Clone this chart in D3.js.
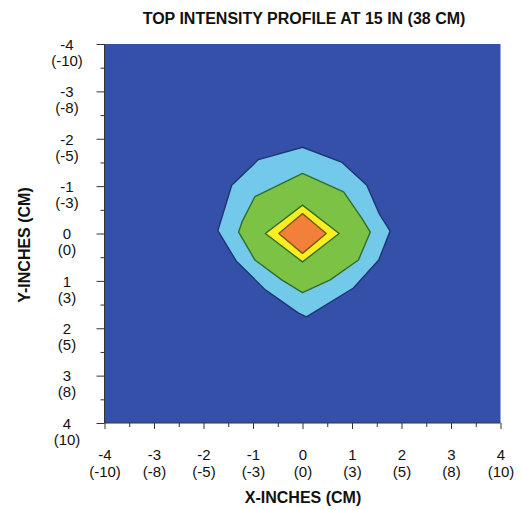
<!DOCTYPE html>
<html>
<head>
<meta charset="utf-8">
<script src="https://cdn.jsdelivr.net/npm/d3@7"></script>
<style>
  html, body { margin: 0; padding: 0; background: #ffffff; }
  svg { display: block; font-family: "Liberation Sans", Arial, sans-serif; }
</style>
</head>
<body>
<svg id="chart" width="523" height="510"></svg>
<script>
// ---- data (inches) ----
const inchTicks = [-4, -3, -2, -1, 0, 1, 2, 3, 4];
const cmLabels  = ["(-10)", "(-8)", "(-5)", "(-3)", "(0)", "(3)", "(5)", "(8)", "(10)"];
const minorTicks = [-3.5, -2.5, -1.5, -0.5, 0.5, 1.5, 2.5, 3.5];

const levelNames = ["background", "low", "medium", "high", "peak"];
const levelColors = ["#3550a9", "#72c9ea", "#7cc245", "#fbee1f", "#f3803a"];
const levelStrokes = ["none", "#1d3574", "#2f6e2c", "#2f6e2c", "#7a5a12"];

// contour outlines, vertices in inches [x, y]
const lowContour = [[0.0,-1.82],[0.8,-1.5],[1.3,-1.02],[1.55,-0.42],[1.77,-0.05],[1.54,0.56],[1.03,1.15],[0.08,1.76],[-0.08,1.68],[-0.75,1.19],[-1.34,0.58],[-1.71,-0.06],[-1.43,-1.02],[-0.89,-1.56]];
const mediumContour = [[0.0,-1.27],[0.83,-0.88],[1.2,-0.32],[1.37,-0.03],[1.13,0.56],[0.56,0.98],[0.0,1.25],[-0.42,0.98],[-0.96,0.56],[-1.29,-0.03],[-1.22,-0.25],[-0.96,-0.78]];
const highContour = [[0.0,-0.6],[0.74,0.0],[0.0,0.6],[-0.75,0.0]];
const peakContour = [[0.0,-0.42],[0.48,0.0],[0.0,0.42],[-0.48,0.0]];
const contours = [lowContour, mediumContour, highContour, peakContour];

// ---- layout ----
const svg = d3.select("#chart");
const x = d3.scaleLinear().domain([-4, 4]).range([104.5, 500.5]);
const y = d3.scaleLinear().domain([-4, 4]).range([44, 423]);

// background field
svg.append("rect")
  .attr("x", x(-4)).attr("y", y(-4))
  .attr("width", x(4) - x(-4)).attr("height", y(4) - y(-4))
  .attr("fill", levelColors[0]);

const line = d3.line().x(d => x(d[0])).y(d => y(d[1])).curve(d3.curveLinearClosed);
svg.append("g").selectAll("path")
  .data(contours)
  .join("path")
  .attr("d", d => line(d))
  .attr("fill", (d, i) => levelColors[i + 1])
  .attr("stroke", (d, i) => levelStrokes[i + 1])
  .attr("stroke-width", 1.4)
  .attr("stroke-linejoin", "round");

// ---- axes ----
function twoLine(sel, firstDy, lineGap, xoff) {
  sel.selectAll(".tick text").each(function(d, i) {
    const t = d3.select(this);
    t.text(null).attr("x", xoff).attr("y", 0).attr("dy", null).attr("text-anchor", "middle");
    t.append("tspan").attr("x", xoff).attr("dy", firstDy).text(String(d));
    t.append("tspan").attr("x", xoff).attr("dy", lineGap).text(cmLabels[inchTicks.indexOf(d)]);
  });
}

const yAxisMinor = d3.axisLeft(y).tickValues(minorTicks).tickSize(4).tickFormat("");
svg.append("g").attr("transform", `translate(${x(-4)},0)`).call(yAxisMinor)
  .call(g => g.select(".domain").remove())
  .selectAll("line").attr("stroke", "#333");

const yAxis = d3.axisLeft(y).tickValues(inchTicks).tickSize(8).tickPadding(0);
const gy = svg.append("g").attr("transform", `translate(${x(-4)},0)`).call(yAxis);
gy.select(".domain").attr("stroke", "#333").attr("d", `M0,${y(-4)}V${y(4)}`);
gy.selectAll(".tick line").attr("stroke", "#333");
gy.selectAll(".tick text").attr("font-size", 15).attr("fill", "#111");
twoLine(gy, "0.35em", 16, -37.5);

const xAxisMinor = d3.axisBottom(x).tickValues(minorTicks).tickSize(4).tickFormat("");
svg.append("g").attr("transform", `translate(0,${y(4)})`).call(xAxisMinor)
  .call(g => g.select(".domain").remove())
  .selectAll("line").attr("stroke", "#333");

const xAxis = d3.axisBottom(x).tickValues(inchTicks).tickSize(6).tickPadding(0);
const gx = svg.append("g").attr("transform", `translate(0,${y(4)})`).call(xAxis);
gx.select(".domain").attr("stroke", "#333").attr("d", `M${x(-4)},0H${x(4)}`);
gx.selectAll(".tick line").attr("stroke", "#333");
gx.selectAll(".tick text").attr("font-size", 15).attr("fill", "#111");
gx.selectAll(".tick text").each(function(d) {
  const t = d3.select(this);
  t.text(null).attr("y", 0).attr("dy", null).attr("text-anchor", "middle");
  t.append("tspan").attr("x", 0).attr("y", 37).text(String(d));
  t.append("tspan").attr("x", 0).attr("y", 54).text(cmLabels[inchTicks.indexOf(d)]);
});

// ---- titles ----
svg.append("text")
  .attr("x", 304).attr("y", 24)
  .attr("text-anchor", "middle")
  .attr("font-size", 16).attr("font-weight", "bold").attr("fill", "#111")
  .text("TOP INTENSITY PROFILE AT 15 IN (38 CM)");

svg.append("text")
  .attr("x", 303).attr("y", 503)
  .attr("text-anchor", "middle")
  .attr("font-size", 16).attr("font-weight", "bold").attr("fill", "#111")
  .text("X-INCHES (CM)");

svg.append("text")
  .attr("transform", "translate(30,245) rotate(-90)")
  .attr("text-anchor", "middle")
  .attr("font-size", 16).attr("font-weight", "bold").attr("fill", "#111")
  .text("Y-INCHES (CM)");
</script>
</body>
</html>
